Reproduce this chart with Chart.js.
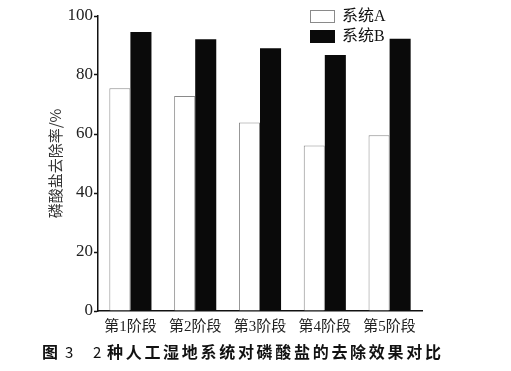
<!DOCTYPE html>
<html>
<head>
<meta charset="utf-8">
<script src="https://cdn.jsdelivr.net/npm/chart.js@4"></script>
<style>
  body { margin: 0; background: #fff; }
  #c { display: block; }
</style>
</head>
<body>
<canvas id="c" width="511" height="371"></canvas>
<script>
var stages = ['第1阶段', '第2阶段', '第3阶段', '第4阶段', '第5阶段'];
var systemA = [75.5, 72.9, 63.9, 56.1, 59.6];
var systemB = [94.6, 92.1, 89.1, 86.8, 92.3];
var yTicks = [0, 20, 40, 60, 80, 100];

var serif = "'Liberation Serif', 'Noto Sans CJK SC', serif";

// legend drawn in the upper right of the plot
var boxLegend = {
    id: 'boxLegend',
    afterDraw: function (chart) {
        var ctx = chart.ctx;
        var x = 310, y = 10;
        chart.data.datasets.forEach(function (ds, i) {
            var yy = y + i * 20;
            ctx.save();
            ctx.fillStyle = ds.backgroundColor;
            ctx.fillRect(x, yy, 25, 13);
            ctx.strokeStyle = ds.borderColor;
            ctx.lineWidth = 1;
            ctx.strokeRect(x + 0.5, yy + 0.5, 24, 12);
            ctx.fillStyle = '#111';
            ctx.font = "16px " + serif;
            ctx.textBaseline = 'middle';
            ctx.fillText(ds.label, x + 32, yy + 7);
            ctx.restore();
        });
    }
};

var caption = {
    id: 'caption',
    afterDraw: function (chart) {
        var ctx = chart.ctx;
        ctx.save();
        ctx.fillStyle = '#111';
        ctx.textBaseline = 'middle';
        ctx.font = "bold 16px 'Noto Sans CJK SC'";
        ctx.fillText('图', 42, 352);
        ctx.font = "15px 'Noto Sans CJK SC'";
        ctx.fillText('3', 65, 352);
        ctx.fillText('2', 93, 352);
        ctx.font = "bold 16px 'Noto Sans CJK SC'";
        ctx.letterSpacing = '2.7px';
        ctx.fillText('种人工湿地系统对磷酸盐的去除效果对比', 107, 352);
        ctx.restore();
    }
};

var ctx = document.getElementById('c').getContext('2d');
var chart = new Chart(ctx, {
    type: 'bar',
    data: {
        labels: stages,
        datasets: [{
            label: '系统A',
            data: systemA,
            backgroundColor: '#ffffff',
            borderColor: '#8a8a8a',
            borderWidth: 1,
            barPercentage: 1,
            categoryPercentage: 0.65
        }, {
            label: '系统B',
            data: systemB,
            backgroundColor: '#0a0a0a',
            borderColor: '#0a0a0a',
            borderWidth: 0,
            barPercentage: 1,
            categoryPercentage: 0.65
        }]
    },
    options: {
        responsive: false,
        animation: false,
        layout: { padding: { left: 46, right: 89, top: 16, bottom: 28 } },
        plugins: {
            legend: { display: false },
            tooltip: { enabled: false }
        },
        scales: {
            x: {
                grid: { display: false, drawTicks: false },
                border: { color: '#111', width: 1.5 },
                ticks: { color: '#222', font: { family: serif, size: 15 }, padding: 7 }
            },
            y: {
                min: 0,
                max: 100,
                afterBuildTicks: function (s) { s.ticks = yTicks.map(function (v) { return { value: v }; }); },
                afterFit: function (s) { s.width = 52; },
                grid: { display: true, drawOnChartArea: false, drawTicks: true, tickLength: 4, color: '#111', tickWidth: 1.5 },
                border: { color: '#111', width: 1.5 },
                ticks: { color: '#222', font: { family: serif, size: 17 }, padding: 1 },
                title: {
                    display: true,
                    text: '磷酸盐去除率/%',
                    color: '#333',
                    font: { family: "'Noto Sans CJK SC'", size: 15 },
                    padding: 0
                }
            }
        }
    },
    plugins: [boxLegend, caption]
});
</script>
</body>
</html>
